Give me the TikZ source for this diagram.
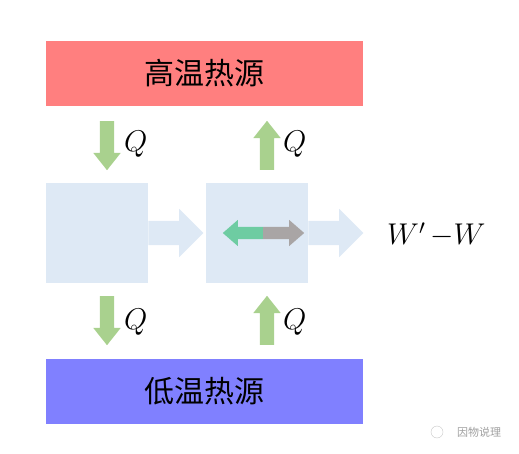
\RequirePackage{fix-cm}
\documentclass[tikz,border=0pt]{standalone}
\usepackage{fontspec}
\newfontfamily\cjk{Noto Sans CJK SC}
\usetikzlibrary{shapes.arrows}

\definecolor{hotred}{RGB}{255,127,127}
\definecolor{coldblue}{RGB}{128,128,255}
\definecolor{engblue}{RGB}{222,233,245}
\definecolor{qgreen}{RGB}{169,209,142}
\definecolor{workgreen}{RGB}{110,204,162}
\definecolor{workgray}{RGB}{169,165,165}

\tikzset{
    source/.style={rectangle, inner sep=0pt, minimum width=317pt, minimum height=65pt,
        font=\cjk\fontsize{30}{36}\selectfont},
    engine/.style={rectangle, fill=engblue, inner sep=0pt, minimum width=102pt, minimum height=100pt},
    outarrow/.style={single arrow, fill=engblue, inner xsep=0pt, inner ysep=12pt, minimum height=55pt,
        minimum width=48pt, single arrow head extend=12pt},
    qarrow/.style={single arrow, fill=qgreen, inner xsep=0pt, inner ysep=7pt, minimum height=49pt,
        minimum width=27pt, single arrow head extend=6.5pt, single arrow tip angle=77},
    workarrow/.style={single arrow, inner xsep=0pt, inner ysep=6pt, minimum width=26pt,
        single arrow head extend=7pt, single arrow tip angle=82},
    qlabel/.style={anchor=base west, inner sep=0pt, font=\fontsize{30}{36}\selectfont}
}

\begin{document}
\begin{tikzpicture}[x=1pt, y=-1pt]
    \useasboundingbox (0,0) rectangle (519,454);

    % heat reservoirs
    \node[source, fill=hotred] (hot) at (204.5,73.5) {高温热源};
    \node[source, fill=coldblue] (cold) at (204.5,391.5) {低温热源};

    % the two engines and their output
    \node[engine] (eng1) at (97,233) {};
    \node[engine] (eng2) at (257,233) {};
    \node[outarrow, anchor=tail] (out1) at (eng1.east) {};
    \node[outarrow, anchor=tail] (out2) at (eng2.east) {};

    % heat flows
    \node[qarrow, anchor=tail, rotate=-90] (qin) at (107,121) {};
    \node[qarrow, anchor=tail, rotate=-90] (qout) at (107,296) {};
    \node[qarrow, anchor=tail, rotate=90] (qup) at (267,170) {};
    \node[qarrow, anchor=tail, rotate=90] (qback) at (267,345) {};

    \node[qlabel] (q1) at (124,152) {$Q$};
    \node[qlabel] (q2) at (283,152) {$Q$};
    \node[qlabel] (q3) at (124,329) {$Q$};
    \node[qlabel] (q4) at (283,329) {$Q$};

    % work split inside the second engine
    \coordinate (split) at (263,233);
    \node[workarrow, fill=workgreen, anchor=tail, rotate=180, minimum height=40pt] (wl) at (split) {};
    \node[workarrow, fill=workgray, anchor=tail, minimum height=41pt] (wr) at (split) {};

    \node[qlabel] (work) at (387,245) {$W'\,{-}W$};

    % watermark
    \draw[gray!45] (437,432) circle (6);
    \node[text=gray!75, font=\cjk\fontsize{11}{13}\selectfont] (mark) at (479,432) {因物说理};
\end{tikzpicture}
\end{document}
